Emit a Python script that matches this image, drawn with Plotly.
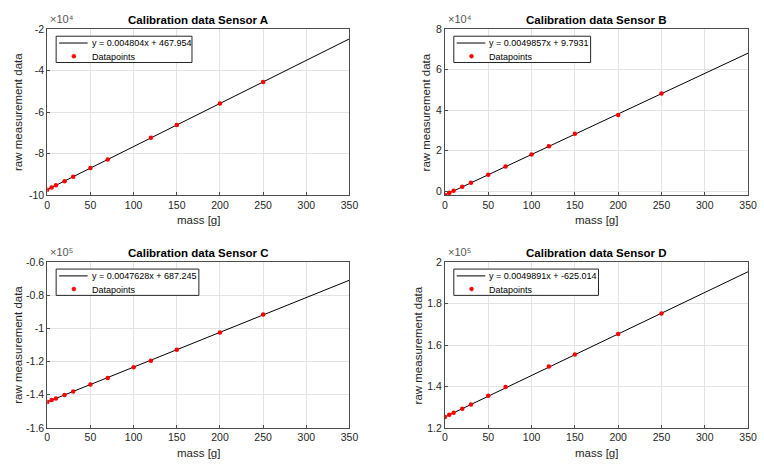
import plotly.graph_objects as go

# ---------------- data ----------------
mass_A = [0, 5, 10, 20, 30, 50, 70, 120, 150, 200, 250]
raw_A = [-97400, -96400, -95300, -93300, -91150, -87000, -82800, -72400, -66200, -55800, -45400]

mass_B = [0, 5, 10, 20, 30, 50, 70, 100, 120, 150, 200, 250]
raw_B = [-1960, -900, 100, 2100, 4100, 8100, 12100, 18100, 22200, 28300, 37600, 48300]

mass_C = [0, 5, 10, 20, 30, 50, 70, 100, 120, 150, 200, 250]
raw_C = [-144300, -143200, -142200, -140100, -138000, -133800, -129800, -123400, -119500, -112800, -102400, -91500]

mass_D = [0, 5, 10, 20, 30, 50, 70, 120, 150, 200, 250]
raw_D = [125300, 126300, 127300, 129300, 131300, 135500, 139700, 149700, 155500, 165300, 175200]

# fit equations shown in legends: mass = slope * raw + intercept
slopes = [0.004804, 0.0049857, 0.0047628, 0.0049891]
intercepts = [467.954, 9.7931, 687.245, -625.014]
fit_labels = ["y = 0.004804x + 467.954", "y = 0.0049857x + 9.7931",
              "y = 0.0047628x + 687.245", "y = 0.0049891x + -625.014"]
point_label = "Datapoints"
sensor_names = ["A", "B", "C", "D"]

x_ticks = [0, 50, 100, 150, 200, 250, 300, 350]
line_mass = [0, 350]

y_ticks = [
    [-100000, -80000, -60000, -40000, -20000],
    [0, 20000, 40000, 60000, 80000],
    [-160000, -140000, -120000, -100000, -80000, -60000],
    [120000, 140000, 160000, 180000, 200000],
]
y_ticktext = [
    ["-10", "-8", "-6", "-4", "-2"],
    ["0", "2", "4", "6", "8"],
    ["-1.6", "-1.4", "-1.2", "-1", "-0.8", "-0.6"],
    ["1.2", "1.4", "1.6", "1.8", "2"],
]
y_exponent = ["×10⁴", "×10⁴", "×10⁵", "×10⁵"]
y_ranges = [[-100000, -20000], [-1964, 80000], [-160000, -60000], [120000, 200000]]

masses = [mass_A, mass_B, mass_C, mass_D]
raws = [raw_A, raw_B, raw_C, raw_D]

# ---------------- layout geometry (pixels) ----------------
W, H = 764, 468
boxes = [  # left, right, top, bottom
    (45, 352, 24, 194),
    (449, 757, 24, 194),
    (45, 352, 263, 433),
    (449, 757, 263, 433),
]
ylabel_offset = [30, 19, 30, 27]
legend_w = [138, 139, 145, 147]

FONT = "Liberation Sans, Arial, Helvetica, sans-serif"
TXT = "#262626"


def px(xp):
    return xp / W


def py(yp):
    return 1 - yp / H


fig = go.Figure()
annotations = []
shapes = []
layout = dict(
    width=W, height=H, margin=dict(l=0, r=0, t=0, b=0),
    paper_bgcolor="white", plot_bgcolor="white",
    font=dict(family=FONT, size=10, color=TXT),
    showlegend=False,
)

for i in range(4):
    l, r, t, b = boxes[i]
    sfx = "" if i == 0 else str(i + 1)
    xa, ya = "x" + sfx, "y" + sfx
    s, c = slopes[i], intercepts[i]
    line_raw = [(m - c) / s for m in line_mass]
    fig.add_trace(go.Scatter(
        x=line_mass, y=line_raw, mode="lines", name=fit_labels[i],
        line=dict(color="black", width=1), xaxis=xa, yaxis=ya))
    fig.add_trace(go.Scatter(
        x=masses[i], y=raws[i], mode="markers", name=point_label,
        marker=dict(color="#ff0000", size=4.5), xaxis=xa, yaxis=ya))

    axcommon = dict(
        showline=True, mirror=True, linecolor="#4d4d4d", linewidth=1,
        showgrid=True, gridcolor="#e3e3e3", gridwidth=1,
        ticks="inside", ticklen=3, tickcolor="#4d4d4d",
        zeroline=False, tickfont=dict(size=10.5, color=TXT, family=FONT),
    )
    layout["xaxis" + sfx] = dict(
        axcommon, domain=[px(l), px(r)], anchor=ya, range=[0, 350],
        tickvals=x_ticks, ticktext=[str(v) for v in x_ticks])
    layout["yaxis" + sfx] = dict(
        axcommon, domain=[py(b), py(t)], anchor=xa, range=y_ranges[i],
        tickvals=y_ticks[i], ticktext=y_ticktext[i])

    # ---- legend box (MATLAB style) ----
    lx0, ly0 = l + 9, t + 7
    lx1, ly1 = lx0 + legend_w[i], ly0 + 27
    shapes.append(dict(type="rect", xref="paper", yref="paper",
                       x0=px(lx0), x1=px(lx1), y0=py(ly1), y1=py(ly0),
                       line=dict(color="#262626", width=1), fillcolor="white",
                       layer="above"))
    shapes.append(dict(type="line", xref="paper", yref="paper",
                       x0=px(lx0 + 3), x1=px(lx0 + 32), y0=py(ly0 + 7), y1=py(ly0 + 7),
                       line=dict(color="black", width=1), layer="above"))
    shapes.append(dict(type="circle", xref="paper", yref="paper",
                       x0=px(lx0 + 16), x1=px(lx0 + 20), y0=py(ly0 + 22.5), y1=py(ly0 + 18.5),
                       line=dict(color="#ff0000", width=0.5), fillcolor="#ff0000",
                       layer="above"))
    annotations.append(dict(
        text=fit_labels[i], x=px(lx0 + 34), y=py(ly0 + 7), xref="paper", yref="paper",
        showarrow=False, xanchor="left", yanchor="middle",
        font=dict(size=9, color="black", family=FONT)))
    annotations.append(dict(
        text=point_label, x=px(lx0 + 34), y=py(ly0 + 21), xref="paper", yref="paper",
        showarrow=False, xanchor="left", yanchor="middle",
        font=dict(size=9, color="black", family=FONT)))

    # title
    annotations.append(dict(
        text="Calibration data Sensor %s" % sensor_names[i],
        x=px((l + r) / 2), y=py(t - 10), xref="paper", yref="paper",
        showarrow=False, font=dict(size=11.5, color="black", family=FONT, weight="bold"),
        xanchor="center", yanchor="middle"))
    # x-axis title
    annotations.append(dict(
        text="mass [g]", x=px((l + r) / 2), y=py(b + 26),
        xref="paper", yref="paper", showarrow=False,
        font=dict(size=11.5, color=TXT, family=FONT), xanchor="center", yanchor="middle"))
    # y-axis title
    annotations.append(dict(
        text="raw measurement data", x=px(l - ylabel_offset[i]), y=py((t + b) / 2),
        xref="paper", yref="paper", showarrow=False, textangle=-90,
        font=dict(size=11.5, color=TXT, family=FONT), xanchor="center", yanchor="middle"))
    # exponent
    annotations.append(dict(
        text=y_exponent[i], x=px(l + 1), y=py(t - 2),
        xref="paper", yref="paper", showarrow=False,
        font=dict(size=11, color="#555555", family=FONT), xanchor="left", yanchor="bottom"))

layout["annotations"] = annotations
layout["shapes"] = shapes
fig.update_layout(**layout)
fig.write_html("out.html")
